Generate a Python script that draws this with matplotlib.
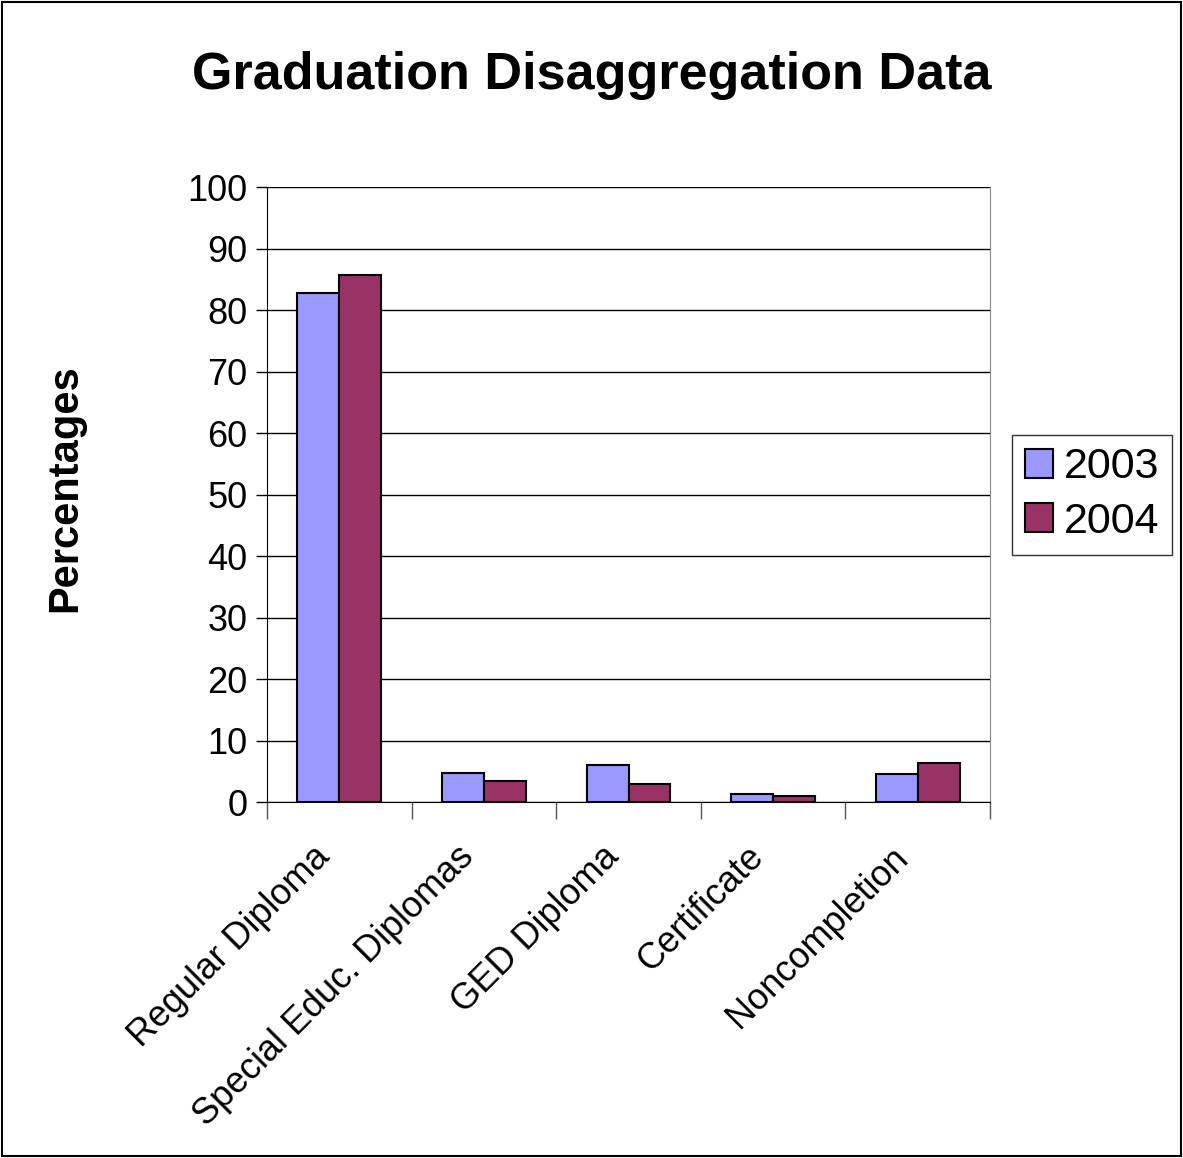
import numpy as np
import matplotlib.pyplot as plt
from matplotlib.patches import Rectangle

plt.rcParams['font.family'] = ['Liberation Sans', 'DejaVu Sans']

categories = ['Regular Diploma', 'Special Educ. Diplomas', 'GED Diploma',
              'Certificate', 'Noncompletion']
vals_2003 = [82.8, 4.8, 6.1, 1.3, 4.6]
vals_2004 = [85.7, 3.5, 2.9, 1.0, 6.4]

fig = plt.figure(figsize=(11.83, 11.58), dpi=100)
ax = fig.add_axes([0.2257, 0.3074, 0.6112, 0.5311])

x = np.arange(len(categories))
w = 0.29
ax.bar(x - w / 2, vals_2003, w, color='#9999FF', edgecolor='black',
       linewidth=1.5, label='2003', zorder=3)
ax.bar(x + w / 2, vals_2004, w, color='#993366', edgecolor='black',
       linewidth=1.5, label='2004', zorder=3)

ax.set_xlim(-0.5, len(categories) - 0.5)
ax.set_ylim(0, 100)
ax.set_yticks(np.arange(0, 101, 10))
ax.yaxis.grid(True, color='black', linewidth=1)
ax.set_axisbelow(True)

# category separators as ticks, labels placed as rotated text
ax.set_xticks(np.arange(-0.5, len(categories), 1))
ax.set_xticklabels([])
ax.tick_params(axis='x', length=12, width=1, color='#555555')
for i, cat in enumerate(categories):
    ax.annotate(cat, xy=(i, 0), xycoords=('data', 'axes fraction'),
                xytext=(-15, -50), textcoords='offset pixels',
                rotation=45, ha='right', va='center',
                rotation_mode='anchor', fontsize=26)
ax.tick_params(axis='y', labelsize=26, length=8, width=1, pad=6)

ax.spines['top'].set_visible(False)
ax.spines['right'].set_color('#888888')

ax.set_ylabel('Percentages', fontsize=30, fontweight='bold')
ax.yaxis.set_label_coords(-0.252, 0.511)
fig.suptitle('Graduation Disaggregation Data', fontsize=37.5, fontweight='bold',
             x=0.5, y=0.935, va='center')

leg = ax.legend(loc='center left', bbox_to_anchor=(1.03, 0.5), fontsize=31,
                frameon=True, fancybox=False, edgecolor='black',
                handlelength=0.65, handleheight=0.65, handletextpad=0.25,
                borderpad=0.3, labelspacing=0.33, borderaxespad=0)
leg.get_frame().set_linewidth(1)

fig.add_artist(Rectangle((0.002, 0.002), 0.996, 0.996, transform=fig.transFigure,
                         fill=False, edgecolor='black', linewidth=1.5))

fig.savefig('out.png', dpi=100)
